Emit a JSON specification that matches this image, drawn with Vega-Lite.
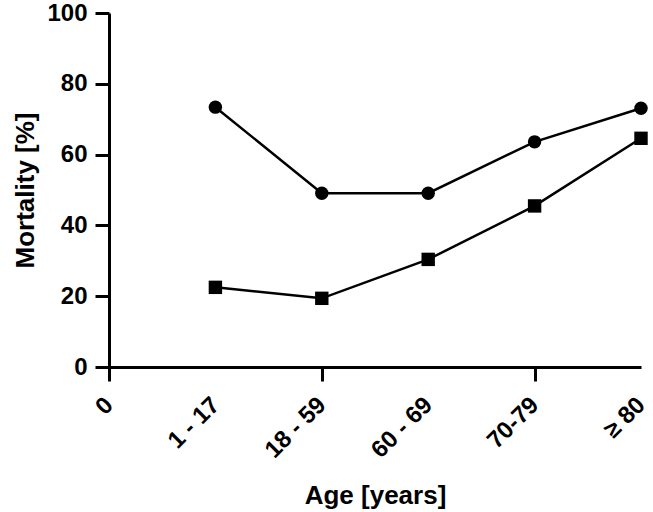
{
  "$schema": "https://vega.github.io/schema/vega-lite/v6.json",
  "width": 532,
  "height": 354,
  "padding": {"left": 12, "top": 1, "right": 0, "bottom": 0},
  "background": "white",
  "config": {
    "view": {"stroke": null},
    "font": "Liberation Sans",
    "axis": {
      "labelFont": "Liberation Sans",
      "titleFont": "Liberation Sans",
      "labelFontWeight": "bold",
      "titleFontWeight": "bold",
      "labelFontSize": 24,
      "titleFontSize": 26,
      "labelColor": "black",
      "titleColor": "black",
      "domainColor": "black",
      "tickColor": "black",
      "domainWidth": 3,
      "tickWidth": 3,
      "tickSize": 14,
      "grid": false
    }
  },
  "data": {
    "values": [
      {"age": "1 - 17", "series": "A", "value": 73.4},
      {"age": "18 - 59", "series": "A", "value": 49.1},
      {"age": "60 - 69", "series": "A", "value": 49.1},
      {"age": "70-79", "series": "A", "value": 63.6},
      {"age": "≥ 80", "series": "A", "value": 73.1},
      {"age": "1 - 17", "series": "B", "value": 22.5},
      {"age": "18 - 59", "series": "B", "value": 19.4},
      {"age": "60 - 69", "series": "B", "value": 30.4},
      {"age": "70-79", "series": "B", "value": 45.5},
      {"age": "≥ 80", "series": "B", "value": 64.6}
    ]
  },
  "resolve": {"axis": {"x": "independent"}},
  "layer": [
    {
      "mark": {"type": "line", "color": "black", "strokeWidth": 2.5},
      "encoding": {
        "x": {
          "field": "age",
          "type": "ordinal",
          "sort": null,
          "scale": {"type": "point", "padding": 0, "domain": ["0", "1 - 17", "18 - 59", "60 - 69", "70-79", "≥ 80"]},
          "axis": {
            "orient": "bottom",
            "title": "Age [years]",
            "labelAngle": -45,
            "labelAlign": "right",
            "labelBaseline": "middle",
            "labelPadding": 20,
            "labelOffset": 0,
            "tickOpacity": 0,
            "titlePadding": 20
          }
        },
        "y": {
          "field": "value",
          "type": "quantitative",
          "scale": {"domain": [0, 100], "nice": false, "zero": true},
          "axis": {"title": "Mortality [%]", "values": [0, 20, 40, 60, 80, 100], "labelPadding": 8, "titlePadding": 8}
        },
        "detail": {"field": "series"}
      }
    },
    {
      "mark": {"type": "point", "filled": true, "opacity": 1, "color": "black", "size": 180},
      "encoding": {
        "x": {
          "field": "age",
          "type": "ordinal",
          "sort": null,
          "axis": {
            "orient": "bottom",
            "title": null,
            "values": ["0", "18 - 59", "70-79"],
            "labels": false,
            "domain": false,
            "ticks": true
          }
        },
        "y": {"field": "value", "type": "quantitative"},
        "shape": {
          "field": "series",
          "type": "nominal",
          "scale": {"domain": ["A", "B"], "range": ["circle", "square"]},
          "legend": null
        }
      }
    }
  ]
}
